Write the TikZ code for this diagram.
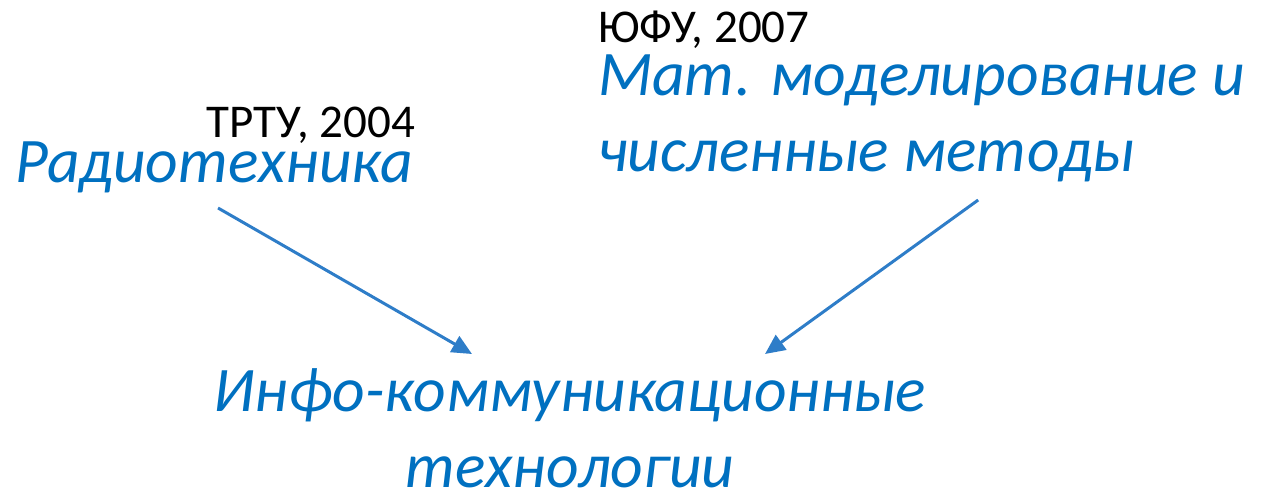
\documentclass[tikz,border=0pt]{standalone}
\usepackage{fontspec}
\setmainfont{Carlito}
\usetikzlibrary{arrows.meta,calc}
\definecolor{fieldblue}{RGB}{0,112,192}
\definecolor{linkblue}{RGB}{46,125,200}
\begin{document}
\begin{tikzpicture}[x=1pt,y=-1pt,inner sep=0pt,outer sep=0pt,
uni/.style={anchor=base west,font=\fontsize{47}{56}\selectfont},
field/.style={anchor=base west,text=fieldblue,align=left,font=\fontsize{63.5}{76}\selectfont\itshape},
link/.style={linkblue,line width=3pt,-{Triangle[length=20pt,width=18pt]}}]
\useasboundingbox (0,0) rectangle (1276,493);
\draw (15,182) node[field] (radio) {Радиотехника};
\draw (415,137) node[uni,anchor=base east] (trtu) {ТРТУ, 2004};
\draw (598,42) node[uni] (yufu) {ЮФУ, 2007};
% base of a two-line node sits on its last line
\draw (598,171) node[field] (math) {Мат. моделирование и\\численные методы};
\draw (570,487) node[field,anchor=base,align=center] (ikt) {Инфо-коммуникационные\\технологии};
\draw[link] ($(radio.base)+(4,26)$) -- ($(ikt.base)+(-98,-133)$);
\draw[link] ($(math.base)+(56.5,29)$) -- ($(ikt.base)+(195,-133)$);
\end{tikzpicture}
\end{document}
